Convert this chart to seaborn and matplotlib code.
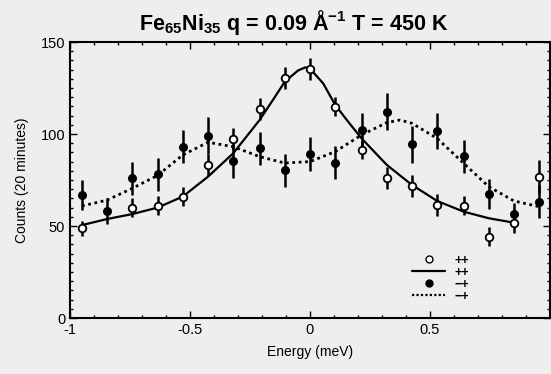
import numpy as np
import pandas as pd
import seaborn as sns
import matplotlib.pyplot as plt
from matplotlib.lines import Line2D
from matplotlib.ticker import MultipleLocator

# energy positions of the measured points (meV)
energy = [-0.95, -0.845, -0.74, -0.635, -0.53, -0.425, -0.32, -0.21, -0.105, 0.0,
          0.105, 0.215, 0.32, 0.425, 0.53, 0.64, 0.745, 0.85, 0.955]

# open circles (++)
counts_pp = [48.7, np.nan, 60.0, 61.1, 66.0, 83.0, 97.3, 113.4, 130.2, 135.1,
             114.9, 91.3, 75.9, 71.7, 61.4, 61.1, 44.2, 51.4, 76.8]
err_pp = [4, 0, 5, 5, 5, 6, 6, 6, 6, 6, 5, 5, 6, 6, 6, 5, 5, 5, 9]

# filled circles (-+)
counts_mp = [66.8, 58.2, 75.9, 78.1, 93.1, 99.1, 85.3, 92.2, 80.4, 89.1,
             84.4, 102.2, 112.1, 94.4, 101.6, 88.0, 67.4, 56.3, 63.2]
err_mp = [8, 7, 9, 9, 9, 10, 9, 9, 9, 9, 9, 9, 10, 10, 10, 9, 8, 6, 9]

# fitted curves
fit_pp_x = [-0.95, -0.845, -0.74, -0.635, -0.53, -0.425, -0.32, -0.21, -0.15, -0.105,
            -0.05, -0.02, 0.0, 0.055, 0.105, 0.16, 0.215, 0.32, 0.425, 0.53, 0.64, 0.745, 0.85]
fit_pp_y = [50.5, 53.8, 56.5, 60.0, 66.0, 76.8, 89.5, 107.6, 119.4, 128.4,
            134.5, 136.2, 135.5, 127.5, 115.8, 106.5, 97.6, 83.2, 72.3, 63.6, 57.8, 54.2, 51.8]

fit_mp_x = [-0.95, -0.845, -0.74, -0.635, -0.53, -0.425, -0.32, -0.21, -0.105, 0.0,
            0.105, 0.215, 0.32, 0.375, 0.425, 0.53, 0.64, 0.745, 0.85, 0.955]
fit_mp_y = [60.9, 64.1, 70.5, 77.5, 88.6, 95.5, 93.1, 87.7, 84.2, 85.0,
            90.4, 99.5, 106.2, 107.6, 105.8, 97.6, 84.1, 71.4, 63.6, 60.5]

pts = pd.DataFrame({'E': energy, 'pp': counts_pp, 'mp': counts_mp,
                    'epp': err_pp, 'emp': err_mp})

sns.set_theme(style='ticks')
plt.rcParams['font.family'] = ['Liberation Sans', 'DejaVu Sans']
plt.rcParams['mathtext.fontset'] = 'custom'
plt.rcParams['mathtext.rm'] = 'Liberation Sans'
plt.rcParams['mathtext.bf'] = 'Liberation Sans:bold'
for k in ['text.color', 'axes.labelcolor', 'xtick.color', 'ytick.color']:
    plt.rcParams[k] = 'black'

bg = '#eeeeec'
fig = plt.figure(figsize=(5.51, 3.74), dpi=100, facecolor=bg)
ax = fig.add_axes([70 / 551, 56 / 374, 480 / 551, 276 / 374], facecolor=bg)

# curves
sns.lineplot(x=fit_pp_x, y=fit_pp_y, ax=ax, color='black', linewidth=1.6, sort=False)
sns.lineplot(x=fit_mp_x, y=fit_mp_y, ax=ax, color='black', linewidth=2.0,
             linestyle=(0, (1, 1.3)), sort=False)

# error bars
ax.errorbar(pts['E'], pts['mp'], yerr=pts['emp'], fmt='none', ecolor='black',
            elinewidth=1.8, capsize=0, zorder=3)
ax.errorbar(pts['E'], pts['pp'], yerr=pts['epp'], fmt='none', ecolor='black',
            elinewidth=1.8, capsize=0, zorder=3)

# points
sns.scatterplot(data=pts, x='E', y='pp', ax=ax, marker='o', s=30, color='white',
                edgecolor='black', linewidth=1.3, zorder=4)
sns.scatterplot(data=pts, x='E', y='mp', ax=ax, marker='o', s=30, color='black',
                edgecolor='black', linewidth=1.0, zorder=5)

ax.set_xlim(-1, 1)
ax.set_ylim(0, 150)
ax.xaxis.set_major_locator(MultipleLocator(0.5))
ax.xaxis.set_minor_locator(MultipleLocator(0.1))
ax.yaxis.set_major_locator(MultipleLocator(50))
ax.yaxis.set_minor_locator(MultipleLocator(5))
ax.set_xticks([-1, -0.5, 0, 0.5])
ax.set_xticklabels(['-1', '-0.5', '0', '0.5'])
ax.tick_params(which='both', direction='in', top=True, right=True, labelsize=10.5,
               color='black', width=1.0)
ax.tick_params(which='major', length=5)
ax.tick_params(which='minor', length=2.5)
for s in ax.spines.values():
    s.set_color('black')
    s.set_linewidth(1.5)

ax.set_xlabel('Energy (meV)', fontsize=10, labelpad=6)
ax.set_ylabel('Counts (20 minutes)', fontsize=10, labelpad=8)
fig.text(294 / 551, 1 - 30 / 374,
         r'Fe$_{\mathbf{65}}$Ni$_{\mathbf{35}}$ q = 0.09 Å$^{\mathbf{-1}}$ T = 450 K',
         ha='center', va='baseline', fontsize=15.5, fontweight='bold')

handles = [
    Line2D([], [], marker='o', linestyle='none', markerfacecolor='white',
           markeredgecolor='black', markersize=5),
    Line2D([], [], color='black', linewidth=1.6),
    Line2D([], [], marker='o', linestyle='none', markerfacecolor='black',
           markeredgecolor='black', markersize=5),
    Line2D([], [], color='black', linewidth=1.6, linestyle=(0, (1, 1))),
]
labels = ['++', '++', '\u2212+', '\u2212+']
ax.legend(handles, labels, loc='lower left', bbox_to_anchor=(0.69, 0.015),
          frameon=False, handlelength=2.6, labelspacing=0.0, handletextpad=0.8,
          prop={'size': 9, 'weight': 'bold'})

fig.savefig('out.png', dpi=100, facecolor=bg)
